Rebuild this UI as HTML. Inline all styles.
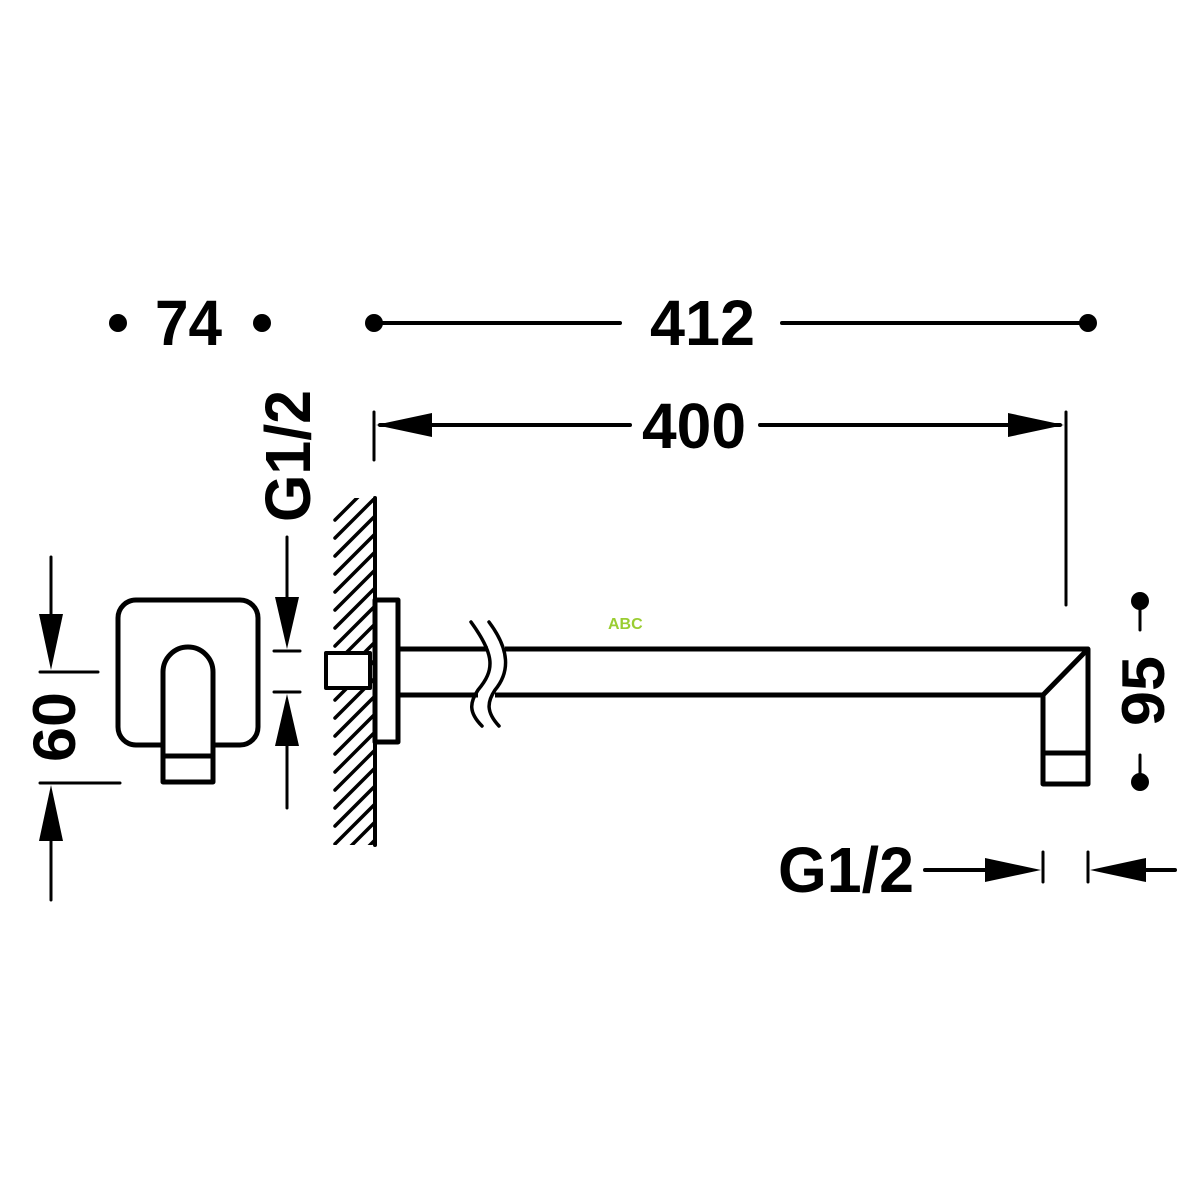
<!DOCTYPE html>
<html><head><meta charset="utf-8"><style>html,body{margin:0;padding:0;background:#fff}svg{display:block}</style></head>
<body>
<svg width="1200" height="1200" viewBox="0 0 1200 1200" xmlns="http://www.w3.org/2000/svg">
<defs>
<clipPath id="hc"><rect x="333" y="498" width="42" height="347"/></clipPath>
</defs>
<g font-family="Liberation Sans, Arial, sans-serif" font-weight="bold" fill="#000">
<text x="155" y="345" font-size="64" textLength="67" lengthAdjust="spacingAndGlyphs">74</text>
<text x="650" y="345" font-size="64" textLength="105" lengthAdjust="spacingAndGlyphs">412</text>
<text x="642" y="448" font-size="64" textLength="104" lengthAdjust="spacingAndGlyphs">400</text>
<text x="778" y="892" font-size="64" textLength="136" lengthAdjust="spacingAndGlyphs">G1/2</text>
<text transform="translate(310,522) rotate(-90)" font-size="64" textLength="132" lengthAdjust="spacingAndGlyphs">G1/2</text>
<text transform="translate(75,762) rotate(-90)" font-size="60" textLength="70" lengthAdjust="spacingAndGlyphs">60</text>
<text transform="translate(1164,726) rotate(-90)" font-size="60" textLength="70" lengthAdjust="spacingAndGlyphs">95</text>
</g>
<g stroke="#000" fill="none" stroke-width="4" stroke-linecap="round">
<!-- top dims -->
<line x1="374" y1="323" x2="620" y2="323"/>
<line x1="782" y1="323" x2="1088" y2="323"/>
<!-- 400 -->
<line x1="374" y1="412" x2="374" y2="460" stroke-width="3"/>
<line x1="1066" y1="412" x2="1066" y2="605" stroke-width="3"/>
<line x1="380" y1="425" x2="630" y2="425"/>
<line x1="760" y1="425" x2="1060" y2="425"/>
<!-- 95 -->
<line x1="1140" y1="601" x2="1140" y2="630" stroke-width="3"/>
<line x1="1140" y1="755" x2="1140" y2="782" stroke-width="3"/>
<!-- bottom G1/2 -->
<line x1="925" y1="870" x2="1000" y2="870"/>
<line x1="1043" y1="852" x2="1043" y2="882" stroke-width="3"/>
<line x1="1088" y1="852" x2="1088" y2="882" stroke-width="3"/>
<line x1="1130" y1="870" x2="1175" y2="870"/>
<!-- 60 -->
<line x1="51" y1="557" x2="51" y2="640" stroke-width="3"/>
<line x1="40" y1="672" x2="98" y2="672" stroke-width="3"/>
<line x1="40" y1="783" x2="120" y2="783" stroke-width="3"/>
<line x1="51" y1="815" x2="51" y2="900" stroke-width="3"/>
<!-- G1/2 left -->
<line x1="287" y1="537" x2="287" y2="620" stroke-width="3"/>
<line x1="274" y1="651" x2="300" y2="651" stroke-width="3"/>
<line x1="274" y1="692" x2="300" y2="692" stroke-width="3"/>
<line x1="287" y1="725" x2="287" y2="808" stroke-width="3"/>
<!-- wall -->
<line x1="375" y1="498" x2="375" y2="845"/>
<g clip-path="url(#hc)" stroke-width="3.5">
<line x1="335" y1="520" x2="375" y2="480"/>
<line x1="335" y1="538" x2="375" y2="498"/>
<line x1="335" y1="556" x2="375" y2="516"/>
<line x1="335" y1="574" x2="375" y2="534"/>
<line x1="335" y1="592" x2="375" y2="552"/>
<line x1="335" y1="610" x2="375" y2="570"/>
<line x1="335" y1="628" x2="375" y2="588"/>
<line x1="335" y1="646" x2="375" y2="606"/>
<line x1="335" y1="664" x2="375" y2="624"/>
<line x1="335" y1="682" x2="375" y2="642"/>
<line x1="335" y1="700" x2="375" y2="660"/>
<line x1="335" y1="718" x2="375" y2="678"/>
<line x1="335" y1="736" x2="375" y2="696"/>
<line x1="335" y1="754" x2="375" y2="714"/>
<line x1="335" y1="772" x2="375" y2="732"/>
<line x1="335" y1="790" x2="375" y2="750"/>
<line x1="335" y1="808" x2="375" y2="768"/>
<line x1="335" y1="826" x2="375" y2="786"/>
<line x1="335" y1="844" x2="375" y2="804"/>
<line x1="335" y1="862" x2="375" y2="822"/>
<line x1="335" y1="880" x2="375" y2="840"/>
</g>
</g>
<g stroke="#000" fill="#fff" stroke-width="5" stroke-linejoin="round">
<!-- nut & flange -->
<rect x="326" y="653" width="44" height="35" stroke-width="4"/>
<rect x="375" y="600" width="23" height="142"/>
<!-- left plate -->
<rect x="118" y="600" width="140" height="145" rx="18"/>
<path d="M163 782 V672 A25 25 0 0 1 213 672 V782 Z"/>
<line x1="163" y1="756" x2="213" y2="756"/>
<!-- elbow -->
<path d="M1043 784 V695 L1088 649 V784 Z"/>
<line x1="1043" y1="753" x2="1088" y2="753"/>
</g>
<g stroke="#000" fill="none" stroke-width="5">
<line x1="398" y1="649" x2="488" y2="649"/>
<line x1="398" y1="695" x2="478" y2="695"/>
<line x1="505" y1="649" x2="1088" y2="649"/>
<line x1="495" y1="695" x2="1043" y2="695"/>
</g>
<g stroke="#000" fill="none" stroke-width="3.5" stroke-linecap="round">
<path d="M471 622 C495 655, 495 670, 478 690 C470 702, 468 712, 482 726"/>
<path d="M489 622 C510 650, 510 672, 495 690 C487 702, 486 712, 499 726"/>
</g>
<g fill="#000">
<circle cx="118" cy="323" r="9"/><circle cx="262" cy="323" r="9"/>
<circle cx="374" cy="323" r="9"/><circle cx="1088" cy="323" r="9"/>
<circle cx="1140" cy="601" r="9"/><circle cx="1140" cy="782" r="9"/>
<polygon points="376,425 432,413 432,437"/>
<polygon points="1064,425 1008,413 1008,437"/>
<polygon points="1041,870 985,858 985,882"/>
<polygon points="1090,870 1146,858 1146,882"/>
<polygon points="51,670 39,614 63,614"/>
<polygon points="51,785 39,841 63,841"/>
<polygon points="287,649 275,597 299,597"/>
<polygon points="287,694 275,746 299,746"/>
</g>
<text x="608" y="629" font-family="Liberation Sans, sans-serif" font-weight="bold" font-size="16" fill="#9acd32">ABC</text>
</svg>
</body></html>
